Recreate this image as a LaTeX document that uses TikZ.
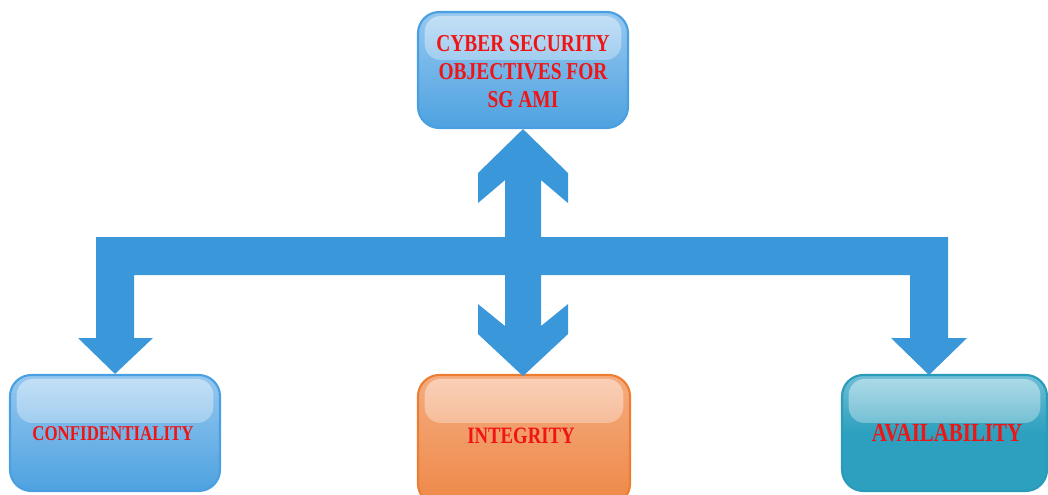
\documentclass[tikz,border=0pt]{standalone}
\usepackage{fontspec}
\newfontfamily\decofont[FakeStretch=0.8]{Liberation Serif}
\usetikzlibrary{calc,fadings}
\definecolor{arrowblue}{RGB}{58,152,218}
\definecolor{bluetop}{RGB}{150,200,240}
\definecolor{bluebot}{RGB}{78,162,224}
\definecolor{blueline}{RGB}{74,159,224}
\definecolor{orangetop}{RGB}{245,172,128}
\definecolor{orangebot}{RGB}{238,136,72}
\definecolor{orangeline}{RGB}{237,125,49}
\definecolor{tealtop}{RGB}{110,190,214}
\definecolor{tealbot}{RGB}{44,160,190}
\definecolor{tealline}{RGB}{42,155,184}
\definecolor{textred}{RGB}{240,20,20}
\tikzfading[name=glossfade, top color=transparent!25, bottom color=transparent!85]
\tikzset{
  box/.style={rounded corners=16pt, line width=1.6pt, inner sep=0pt,
    path picture={\fill[white,opacity=0.6,path fading=glossfade,rounded corners=12pt]
      ($(path picture bounding box.north west)+(5pt,-3pt)$) rectangle
      ($(path picture bounding box.north east)+(-5pt,-36pt)$);}},
  bluebox/.style={box, draw=blueline, top color=bluetop, bottom color=bluebot},
  orangebox/.style={box, draw=orangeline, top color=orangetop, bottom color=orangebot},
  tealbox/.style={box, draw=tealline, top color=tealtop, bottom color=tealbot, middle color=tealbot},
  label/.style={text=textred, font=\decofont\bfseries, align=center, inner sep=0pt},
  blockarrow/.style={fill=arrowblue}
}
\begin{document}
\begin{tikzpicture}[x=0.75pt,y=-0.75pt]
\useasboundingbox (0,0) rectangle (1048,495);
% boxes
\node[bluebox, minimum width=157.5pt, minimum height=87pt] (top) at (523,70) {};
\node[bluebox, minimum width=157.5pt, minimum height=87pt] (conf) at (115,433) {};
\node[orangebox, minimum width=159pt, minimum height=97.5pt] (integ) at (524,440) {};
\node[tealbox, minimum width=153.75pt, minimum height=87pt] (avail) at (944.5,433) {};
\coordinate (ra) at (929,375);
% texts
\node[label, font=\decofont\bfseries\fontsize{18.2}{21}\selectfont] (topt) at (523,71.5) {CYBER SECURITY\\OBJECTIVES FOR\\SG AMI};
\node[label, font=\decofont\bfseries\fontsize{15.8}{18}\selectfont] (conft) at (113,434) {CONFIDENTIALITY};
\node[label, font=\decofont\bfseries\fontsize{17.6}{20}\selectfont] (integt) at (521,436) {INTEGRITY};
\node[label, font=\decofont\bfseries\fontsize{19.6}{22}\selectfont] (availt) at (947,433) {AVAILABILITY};
% horizontal bar with the two side arrows
\fill[blockarrow] (96,237) -- (948,237) -- (948,338) -- (967,338) -- (ra) -- (891,338)
  -- (910,338) -- (910,275) -- (134,275) -- (134,338) -- (153,338) -- (conf.north)
  -- (78,338) -- (96,338) -- cycle;
% double vertical arrow
\fill[blockarrow] (top.south) -- ++(45,44) -- ++(0,30) -- ++(-27,-23) -- ++(0,146)
  -- ++(27,-22) -- ++(0,30) -- ++(-45,42) -- ++(-45,-42) -- ++(0,-30) -- ++(27,22)
  -- ++(0,-146) -- ++(-27,23) -- ++(0,-30) -- cycle;
\end{tikzpicture}
\end{document}
